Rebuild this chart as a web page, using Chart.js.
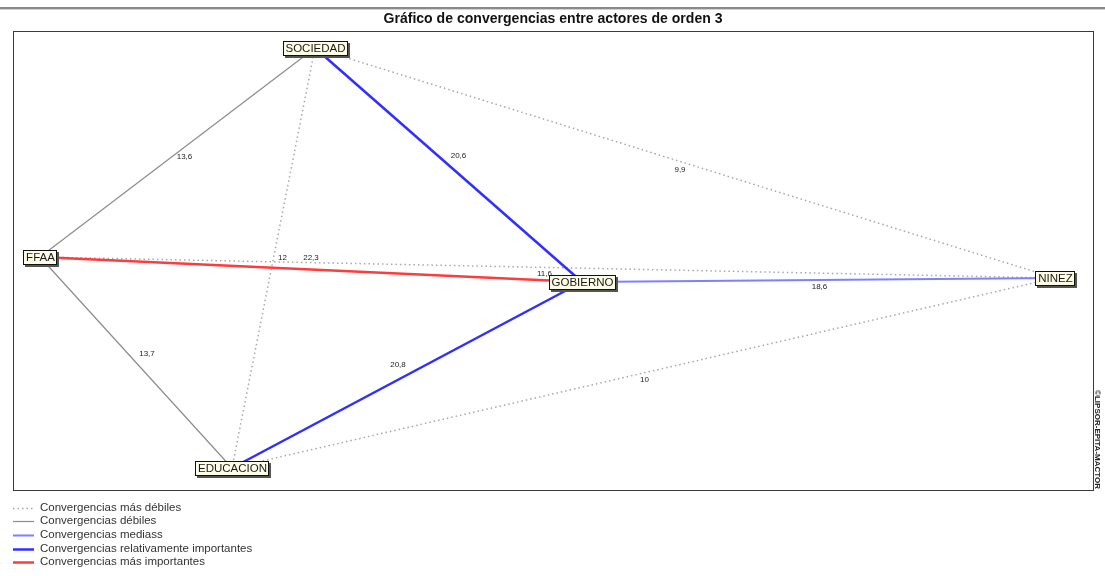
<!DOCTYPE html>
<html>
<head>
<meta charset="utf-8">
<title>Gráfico de convergencias entre actores de orden 3</title>
<script src="https://cdn.jsdelivr.net/npm/chart.js"></script>
<style>
  body { margin: 0; background: #fff; }
  #wrap { width: 1105px; height: 576px; position: relative; }
</style>
</head>
<body>
<div id="wrap"><canvas id="convChart"></canvas></div>
<script>
// actors and their place on the map (layout units)
const actors = ['FFAA', 'SOCIEDAD', 'GOBIERNO', 'NINEZ', 'EDUCACION'];
const actorX = [27, 302, 569, 1042, 219];
const actorY = [226, 17, 251, 247, 437];

// convergences between pairs of actors
const edgeFrom = ['FFAA', 'FFAA', 'FFAA', 'FFAA', 'SOCIEDAD', 'SOCIEDAD', 'SOCIEDAD', 'EDUCACION', 'EDUCACION', 'GOBIERNO'];
const edgeTo = ['SOCIEDAD', 'EDUCACION', 'GOBIERNO', 'NINEZ', 'EDUCACION', 'GOBIERNO', 'NINEZ', 'GOBIERNO', 'NINEZ', 'NINEZ'];
const edgeValues = [13.6, 13.7, 22.3, 11.6, 12, 20.6, 9.9, 20.8, 10, 18.6];

// where each value label sits, relative to the middle of its edge (px)
const labelShift = [[7, 4], [11, -9], [0, -12], [-3, 6], [9, 0], [10, -9], [-5, 7], [-9, -10], [1, 7], [1, 7]];

// legend classes
const classNames = [
  'Convergencias más débiles',
  'Convergencias débiles',
  'Convergencias mediass',
  'Convergencias relativamente importantes',
  'Convergencias más importantes'
];
const classLimits = [13, 18, 20, 22]; // upper bound of each class but the last

const classStyle = [
  { color: '#a8a8a8', width: 1.5, dash: [1.5, 3] },
  { color: '#8c8c8c', width: 1.2, dash: [] },
  { color: '#7f7fff', width: 2, dash: [] },
  { color: '#2f2fff', width: 2.5, dash: [] },
  { color: '#ff3b3b', width: 2.5, dash: [] }
];

const classOf = (v) => {
  let c = 0;
  while (c < classLimits.length && v >= classLimits[c]) c++;
  return c;
};

const fmt = (v) => String(v).replace('.', ',');

const datasets = edgeValues.map((v, i) => {
  const a = actors.indexOf(edgeFrom[i]);
  const b = actors.indexOf(edgeTo[i]);
  const st = classStyle[classOf(v)];
  return {
    label: edgeFrom[i] + '-' + edgeTo[i],
    data: [{ x: actorX[a], y: actorY[a] }, { x: actorX[b], y: actorY[b] }],
    borderColor: st.color,
    borderWidth: st.width,
    borderDash: st.dash,
    showLine: true,
    pointRadius: 0,
    pointHoverRadius: 0,
    order: 10 - classOf(v)
  };
});

const decor = {
  id: 'decor',
  beforeDraw(chart) {
    const ctx = chart.ctx;
    const area = chart.chartArea;
    ctx.save();
    // top rule
    ctx.fillStyle = '#8a8a8a';
    ctx.fillRect(0, 7, chart.width, 2);
    ctx.fillStyle = '#d0d0d0';
    ctx.fillRect(0, 9, chart.width, 1);
    // title, squeezed to look like a narrow face
    const title = 'Gráfico de convergencias entre actores de orden 3';
    ctx.fillStyle = '#111';
    ctx.font = 'bold 15px Arial, "Liberation Sans", sans-serif';
    ctx.textAlign = 'center';
    ctx.textBaseline = 'middle';
    const sx = 339 / ctx.measureText(title).width;
    ctx.translate(553, 19);
    ctx.scale(sx, 1);
    ctx.fillText(title, 0, 0);
    ctx.setTransform(1, 0, 0, 1, 0, 0);
    // plot frame
    ctx.strokeStyle = '#3a3a3a';
    ctx.lineWidth = 1;
    ctx.strokeRect(area.left + 0.5, area.top + 0.5, area.right - area.left, area.bottom - area.top);
    ctx.restore();
  },
  afterDatasetsDraw(chart) {
    const ctx = chart.ctx;
    const xs = chart.scales.x;
    const ys = chart.scales.y;
    ctx.save();
    // value labels
    ctx.font = '8px Arial, "Liberation Sans", sans-serif';
    ctx.fillStyle = '#222';
    ctx.textAlign = 'center';
    ctx.textBaseline = 'middle';
    edgeValues.forEach((v, i) => {
      const a = actors.indexOf(edgeFrom[i]);
      const b = actors.indexOf(edgeTo[i]);
      const mx = (xs.getPixelForValue(actorX[a]) + xs.getPixelForValue(actorX[b])) / 2;
      const my = (ys.getPixelForValue(actorY[a]) + ys.getPixelForValue(actorY[b])) / 2;
      ctx.fillText(fmt(v), mx + labelShift[i][0], my + labelShift[i][1]);
    });
    // actor boxes
    ctx.font = '11.5px Arial, "Liberation Sans", sans-serif';
    actors.forEach((name, i) => {
      const px = xs.getPixelForValue(actorX[i]);
      const py = ys.getPixelForValue(actorY[i]);
      const w = Math.round(ctx.measureText(name).width) + 5;
      const h = 15;
      const l = Math.round(px - w / 2);
      const t = Math.round(py - h / 2);
      ctx.fillStyle = '#555';
      ctx.fillRect(l + 2, t + 2, w, h);
      ctx.fillStyle = '#fdfde6';
      ctx.fillRect(l, t, w, h);
      ctx.strokeStyle = '#111';
      ctx.lineWidth = 1;
      ctx.strokeRect(l + 0.5, t + 0.5, w - 1, h - 1);
      ctx.fillStyle = '#1a1a1a';
      ctx.fillText(name, px + 0.5, py + 1);
    });
    ctx.restore();
  },
  afterDraw(chart) {
    const ctx = chart.ctx;
    ctx.save();
    // legend
    ctx.font = '11.5px Arial, "Liberation Sans", sans-serif';
    ctx.textAlign = 'left';
    ctx.textBaseline = 'middle';
    classNames.forEach((name, i) => {
      const y = 507.5 + i * 13.7;
      const st = classStyle[i];
      ctx.strokeStyle = st.color;
      ctx.lineWidth = st.width;
      ctx.setLineDash(st.dash);
      ctx.beginPath();
      ctx.moveTo(13, Math.round(y) + 0.5);
      ctx.lineTo(34, Math.round(y) + 0.5);
      ctx.stroke();
      ctx.setLineDash([]);
      ctx.fillStyle = '#333';
      ctx.fillText(name, 40, y);
    });
    // credit
    ctx.translate(1097, 489);
    ctx.rotate(Math.PI / 2);
    ctx.font = 'bold 8px "Liberation Sans Narrow", Arial, sans-serif';
    ctx.fillStyle = '#222';
    ctx.textAlign = 'right';
    ctx.fillText('©LIPSOR-EPITA-MACTOR', 0, 0);
    ctx.restore();
  }
};

new Chart(document.getElementById('convChart'), {
  type: 'scatter',
  data: { datasets: datasets },
  options: {
    responsive: true,
    maintainAspectRatio: false,
    animation: false,
    layout: { padding: { left: 13, top: 31, right: 12, bottom: 86 } },
    scales: {
      x: { type: 'linear', min: 0, max: 1080, display: false },
      y: { type: 'linear', min: 0, max: 459, reverse: true, display: false }
    },
    plugins: {
      legend: { display: false },
      title: { display: false },
      tooltip: { enabled: false }
    }
  },
  plugins: [decor]
});
</script>
</body>
</html>
